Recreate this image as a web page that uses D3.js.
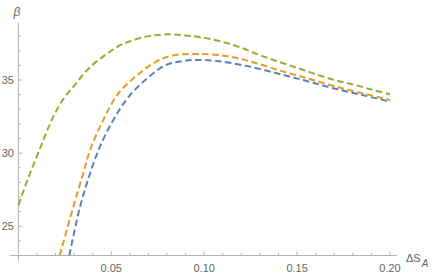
<!DOCTYPE html>
<html><head><meta charset="utf-8">
<script src="https://cdn.jsdelivr.net/npm/d3@7"></script>
<style>html,body{margin:0;padding:0;background:#fff;}svg{display:block;}</style>
</head><body>
<svg id="chart" width="436" height="277"></svg>
<script>
// Data
const blueX   = [0.0274,0.0332,0.0386,0.0439,0.0511,0.0601,0.0726,0.0799,0.0861,0.0942,0.1068,0.1250,0.1427,0.1560,0.1696,0.1850,0.2001];
const blueY   = [23.0,26.34,28.62,30.44,32.27,33.97,35.46,36.05,36.25,36.37,36.30,35.90,35.34,34.90,34.43,33.98,33.52];
const orangeX = [0.0222,0.0296,0.0350,0.0386,0.0457,0.0538,0.0637,0.0726,0.0816,0.0978,0.1140,0.1280,0.1427,0.1560,0.1696,0.1850,0.2001];
const orangeY = [23.0,26.34,28.66,30.21,32.27,34.09,35.30,36.14,36.64,36.78,36.60,36.15,35.57,35.10,34.59,34.10,33.63];
const greenX  = [0,0.005,0.010,0.015,0.020,0.025,0.030,0.035,0.040,0.045,0.050,0.055,0.060,0.070,0.080,0.090,0.100,0.110,0.120,0.130,0.140,0.150,0.160,0.170,0.180,0.190,0.200];
const greenY  = [26.45,28.2,29.8,31.4,32.8,33.85,34.6,35.4,36.05,36.55,37.0,37.4,37.65,38.0,38.12,38.05,37.88,37.6,37.2,36.7,36.25,35.83,35.4,35.0,34.7,34.35,34.02];
const xMajor = [0.05,0.10,0.15,0.20];
const xTickLabels = ["0.05","0.10","0.15","0.20"];
const yMajor = [25,30,35];
const yTickLabels = ["25","30","35"];
const xMinor = d3.range(1,21).map(i=>i/100).filter(v=>!xMajor.some(m=>Math.abs(m-v)<1e-9));
const yMinor = d3.range(23,39).filter(v=>!yMajor.includes(v));

const colors = {blue:"#5E81B5", orange:"#E19C24", green:"#8FB032"};

const svg = d3.select("#chart");
const x = d3.scaleLinear().domain([0,0.2]).range([18.4,390]);
const y = d3.scaleLinear().domain([23,35]).range([255.5,80]);

const axisColor = "#b3b3b3", textColor = "#666";
const font = "'Liberation Sans', Arial, sans-serif";

// clip
svg.append("clipPath").attr("id","clip").append("rect")
  .attr("x", x(-0.005)).attr("y", y(38.92)).attr("width", x(0.204)-x(-0.005)).attr("height", y(23)-y(38.92));

// axes
svg.append("line").attr("x1",x(-0.0045)).attr("x2",x(0.2038)).attr("y1",y(23)).attr("y2",y(23))
  .attr("stroke",axisColor).attr("stroke-width",1);
svg.append("line").attr("x1",x(0)).attr("x2",x(0)).attr("y1",y(22.64)).attr("y2",y(38.92))
  .attr("stroke",axisColor).attr("stroke-width",1);

// x ticks
svg.selectAll(".xmaj").data(xMajor).enter().append("line")
  .attr("x1",d=>x(d)).attr("x2",d=>x(d)).attr("y1",y(23)).attr("y2",y(23)-4)
  .attr("stroke",axisColor);
svg.selectAll(".xmin").data(xMinor).enter().append("line")
  .attr("x1",d=>x(d)).attr("x2",d=>x(d)).attr("y1",y(23)).attr("y2",y(23)-2.5)
  .attr("stroke",axisColor);
svg.selectAll(".xlab").data(xMajor).enter().append("text")
  .attr("x",d=>x(d)).attr("y",272).attr("text-anchor","middle")
  .attr("font-family",font).attr("font-size",11).attr("fill",textColor)
  .text((d,i)=>xTickLabels[i]);

// y ticks
svg.selectAll(".ymaj").data(yMajor).enter().append("line")
  .attr("x1",x(0)).attr("x2",x(0)+4).attr("y1",d=>y(d)).attr("y2",d=>y(d))
  .attr("stroke",axisColor);
svg.selectAll(".ymin").data(yMinor).enter().append("line")
  .attr("x1",x(0)).attr("x2",x(0)+2.5).attr("y1",d=>y(d)).attr("y2",d=>y(d))
  .attr("stroke",axisColor);
svg.selectAll(".ylab").data(yMajor).enter().append("text")
  .attr("x",14).attr("y",d=>y(d)+4).attr("text-anchor","end")
  .attr("font-family",font).attr("font-size",11).attr("fill",textColor)
  .text((d,i)=>yTickLabels[i]);

// axis labels
svg.append("text").attr("x",17).attr("y",16).attr("text-anchor","middle")
  .attr("font-family",font).attr("font-size",12).attr("font-style","italic").attr("fill",textColor).text("β");
const xl = svg.append("text").attr("x",406).attr("y",262)
  .attr("font-family",font).attr("font-size",11).attr("fill",textColor);
xl.append("tspan").text("ΔS");
xl.append("tspan").attr("dx",1).attr("dy",5).attr("font-style","italic").attr("font-size",10).text("A");

// lines
const line = d3.line().x(d=>x(d[0])).y(d=>y(d[1])).curve(d3.curveCatmullRom.alpha(0.5));
const g = svg.append("g").attr("clip-path","url(#clip)");
[[blueX,blueY,colors.blue],[orangeX,orangeY,colors.orange],[greenX,greenY,colors.green]].forEach(([xs,ys,c])=>{
  g.append("path").datum(xs.map((v,i)=>[v,ys[i]]))
    .attr("d",line).attr("fill","none").attr("stroke",c).attr("stroke-width",2)
    .attr("stroke-dasharray","6.5,3.5");
});
</script>
</body></html>
